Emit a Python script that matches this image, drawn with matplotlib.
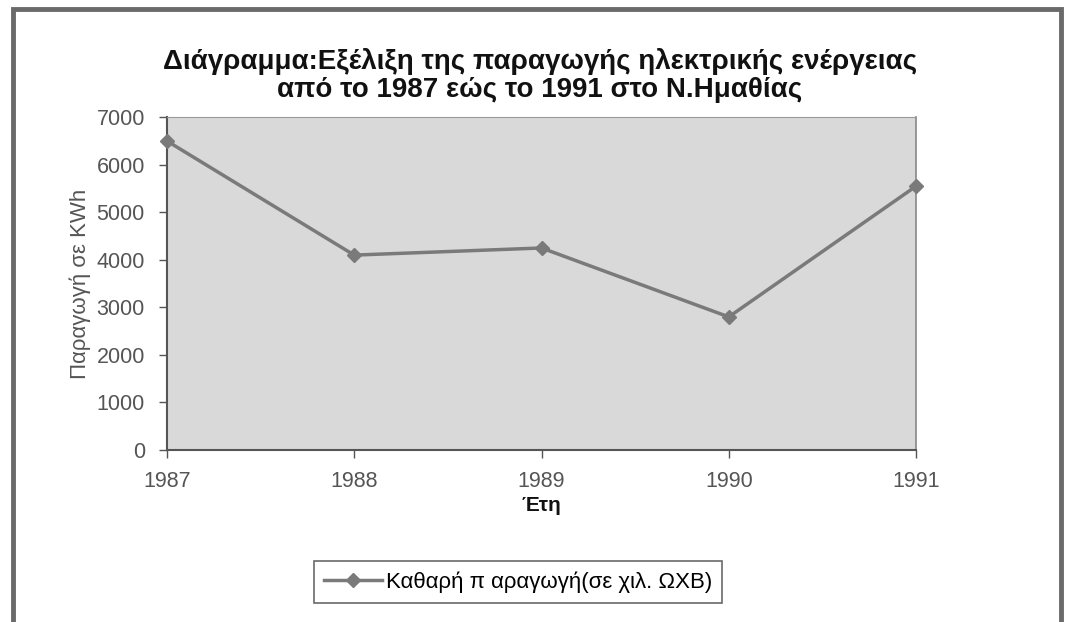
import matplotlib.pyplot as plt
from matplotlib.patches import Rectangle

# donnees
annees = [1987, 1988, 1989, 1990, 1991]
production = [6500, 4100, 4250, 2800, 5550]
yticks = [0, 1000, 2000, 3000, 4000, 5000, 6000, 7000]

titre = "Διάγραμμα:Εξέλιξη της παραγωγής ηλεκτρικής ενέργειας\nαπό το 1987 εώς το 1991 στο Ν.Ημαθίας"
label_y = "Παραγωγή σε KWh"
label_x = "Έτη"
legende = "Καθαρή π αραγωγή(σε χιλ. ΩΧΒ)"

plt.rcParams['font.family'] = ['Liberation Sans', 'DejaVu Sans']

fig = plt.figure(figsize=(10.67, 6.22), dpi=100)
ax = fig.add_axes([0.1565, 0.2765, 0.702, 0.535])

# cadre exterieur
fig.patches.append(Rectangle((0.012, -0.02), 0.982, 1.005, transform=fig.transFigure,
                             fill=False, edgecolor='#6a6a6a', linewidth=3.5))

ax.set_facecolor('#d9d9d9')
ligne, = ax.plot(range(len(annees)), production, color='#7a7a7a', linewidth=2.5,
                 marker='D', markersize=7, markerfacecolor='#7a7a7a', markeredgecolor='#7a7a7a',
                 label=legende, clip_on=False, zorder=5)

ax.set_xlim(0, len(annees) - 1)
ax.set_ylim(0, 7000)
ax.set_xticks(range(len(annees)))
ax.set_xticklabels([str(a) for a in annees])
ax.set_yticks(yticks)

ax.tick_params(axis='both', colors='#555555', labelsize=15.5, length=6, width=1)
ax.tick_params(axis='x', pad=9)
ax.tick_params(axis='y', pad=10)
for cote in ['left', 'bottom']:
    ax.spines[cote].set_color('#555555')
    ax.spines[cote].set_linewidth(1.5)
ax.spines['top'].set_color('#999999')
ax.spines['right'].set_color('#888888')
ax.spines['right'].set_linewidth(1.2)
ax.spines['top'].set_linewidth(0.8)

ax.set_ylabel(label_y, fontsize=16, color='#555555', labelpad=4)
ax.set_xlabel(label_x, fontsize=15, fontweight='bold', color='#111111', labelpad=3)

fig.text(0.506, 0.879, titre, ha='center', va='center', fontsize=20, fontweight='bold',
         linespacing=1.1, color='#111111')

leg = fig.legend(handles=[ligne], loc='center', bbox_to_anchor=(0.4855, 0.0645),
                 frameon=True, fancybox=False, fontsize=16, handlelength=2.6,
                 borderpad=0.45, edgecolor='#444444', handletextpad=0.2)
leg.get_frame().set_linewidth(1.2)

fig.savefig('out.png', dpi=100)
